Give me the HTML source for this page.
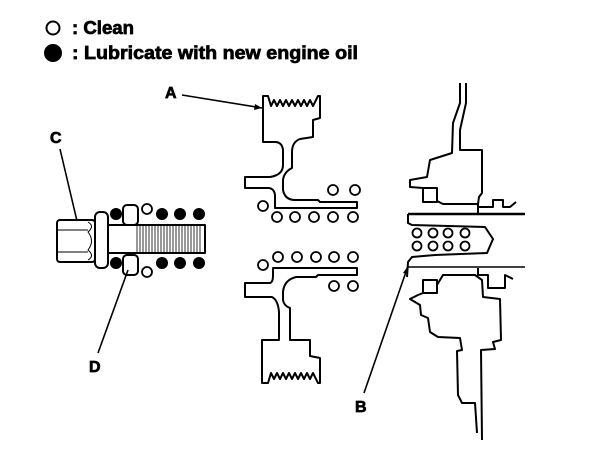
<!DOCTYPE html>
<html><head><meta charset="utf-8"><style>html,body{margin:0;padding:0;background:#fff}svg{display:block}</style></head>
<body>
<svg width="608" height="452" viewBox="0 0 608 452" xmlns="http://www.w3.org/2000/svg" font-family="Liberation Sans, sans-serif" font-weight="bold">
<g fill="none" stroke="#000" stroke-width="2" stroke-linejoin="round">
<circle cx="53" cy="28" r="6.5"/>
<circle cx="53" cy="53" r="8" fill="#000"/>
</g>
<g stroke="#000" stroke-width="0.7">
<text x="72" y="34" font-size="18" textLength="62" lengthAdjust="spacingAndGlyphs">: Clean</text>
<text x="72" y="59" font-size="18" textLength="286" lengthAdjust="spacingAndGlyphs">: Lubricate with new engine oil</text>
<text x="165" y="98" font-size="16">A</text>
<text x="50" y="143" font-size="16">C</text>
<text x="89" y="372" font-size="16">D</text>
<text x="355" y="412" font-size="16">B</text>
</g>
<g fill="none" stroke="#000" stroke-width="2" stroke-linejoin="round">
<line x1="182" y1="95" x2="262" y2="108" stroke-width="1.6"/>
<line x1="60" y1="149" x2="77" y2="221" stroke-width="1.6"/>
<line x1="98" y1="353" x2="128" y2="270" stroke-width="1.6"/>
<line x1="364" y1="393" x2="408" y2="266" stroke-width="1.6"/>
<path d="M263,142 L263,96 L268,96 L271,106 L274,100 L277,106 L280,100 L283,106 L286,100 L289,106 L292,100 L295,106 L298,100 L301,106 L304,100 L307,106 L310,100 L313,106 L318,96 L320,96 L320,118 L313,120 L313,137 L300,139 Q292,142 292,152 L292,168 Q284,172 283,180 L283,190 Q285,200 295,200 L318,200 L320,202 L357,202 L357,208 L275,208 L275,195 Q274,188 268,188 L245,188 L245,177 L270,177 Q283,175 283,165 L283,150 Q282,142 275,142 Z"/>
<path d="M273,276 L273,268 L357,268 L357,275 L318,275 L316,277 L296,277 Q284,280 283,292 L283,300 Q284,306 290,308 L290,340 L310,340 L310,356 L320,358 L320,383 L318,383 L313,373 L310,379 L307,373 L304,379 L301,373 L298,379 L295,373 L292,379 L289,373 L286,379 L283,373 L280,379 L277,373 L274,379 L271,373 L268,383 L262,383 L262,340 L279,340 L279,312 Q278,300 272,297 L245,297 L245,283 L270,283 Q273,282 273,276 Z"/>
<line x1="408" y1="214" x2="525" y2="214" stroke-width="2.6"/>
<line x1="408" y1="267" x2="525" y2="267" stroke-width="1.4"/>
<path d="M408,214 L408,223 L412,225 L485,227 L493,239 L487,253 L435,255 L412,257 L408,262 L407,277"/>
<path d="M460,83 L460,103 L453,123 L452,153 L430,160 L427,177 L410,180 L410,187 L423,188 M437,201 L443,204 L478,204 L478,213 M478,207 L493,207 L493,200 L503,200 L503,207 L510,207 L516,202"/>
<path d="M466,83 L466,103 L460,130 L460,150 L482,150 L482,193 L479,197 L478,204"/>
<rect x="423" y="188" width="14" height="14"/>
<rect x="423" y="280" width="14" height="13"/>
<path d="M423,293 L418,295 L410,299 L420,305 L421,315 L428,318 L430,332 L438,337 L460,338 L462,350 L457,351 L458,395 L462,403 L475,403 L477,433"/>
<path d="M437,285 L443,275 L475,275 L482,280 L483,297 L500,299 L501,340 L493,342 L495,349 L481,350 L482,440"/>
<path d="M478,268 L478,275 L488,275 L488,288 L505,288 L505,275 L513,279"/>
<rect x="57" y="220" width="38" height="42" rx="3"/>
<path d="M57,230 L88,230 M57,252 L88,252 M88,222 Q95,226 88,232 Q95,241 88,250 Q95,256 88,260" stroke-width="1"/>
<rect x="95" y="212" width="13" height="56" rx="5"/>
<rect x="108" y="225" width="97" height="28"/>
<path d="M137,225 V253 M140,225 V253 M143,225 V253 M146,225 V253 M149,225 V253 M152,225 V253 M155,225 V253 M158,225 V253 M161,225 V253 M164,225 V253 M167,225 V253 M170,225 V253 M173,225 V253 M176,225 V253 M179,225 V253 M182,225 V253 M185,225 V253 M188,225 V253 M191,225 V253 M194,225 V253 M197,225 V253 M200,225 V253" stroke-width="0.8"/>
<rect x="123" y="205" width="15" height="20" rx="4"/>
<rect x="123" y="255" width="15" height="20" rx="4"/>
<g stroke-width="1.8">
<circle cx="147" cy="209" r="5"/><circle cx="147" cy="272" r="5"/>
<circle cx="263" cy="206" r="5"/>
<circle cx="333" cy="190" r="5"/><circle cx="355" cy="190" r="5"/>
<circle cx="277" cy="217" r="5"/><circle cx="295" cy="217" r="5"/><circle cx="314" cy="217" r="5"/><circle cx="333" cy="217" r="5"/><circle cx="353" cy="217" r="5"/>
<circle cx="278" cy="257" r="5"/><circle cx="297" cy="257" r="5"/><circle cx="316" cy="257" r="5"/><circle cx="334" cy="257" r="5"/><circle cx="353" cy="257" r="5"/>
<circle cx="263" cy="265" r="5"/>
<circle cx="334" cy="286" r="5"/><circle cx="353" cy="286" r="5"/>
<circle cx="417" cy="233" r="4.5"/><circle cx="433" cy="233" r="4.5"/><circle cx="448" cy="233" r="4.5"/><circle cx="465" cy="233" r="4.5"/>
<circle cx="417" cy="246" r="4.5"/><circle cx="433" cy="246" r="4.5"/><circle cx="448" cy="246" r="4.5"/><circle cx="465" cy="246" r="4.5"/>
</g>
</g>
<g fill="#000">
<circle cx="116" cy="214" r="6"/><circle cx="162" cy="214" r="6"/><circle cx="180" cy="214" r="6"/><circle cx="199" cy="214" r="6"/>
<circle cx="116" cy="263" r="6"/><circle cx="162" cy="263" r="6"/><circle cx="180" cy="263" r="6"/><circle cx="199" cy="263" r="6"/>
<path d="M262,108 L255,104 L254,110 Z"/>
<path d="M408,266 L403,273 L408,274 Z"/>
</g>
</svg>
</body></html>
